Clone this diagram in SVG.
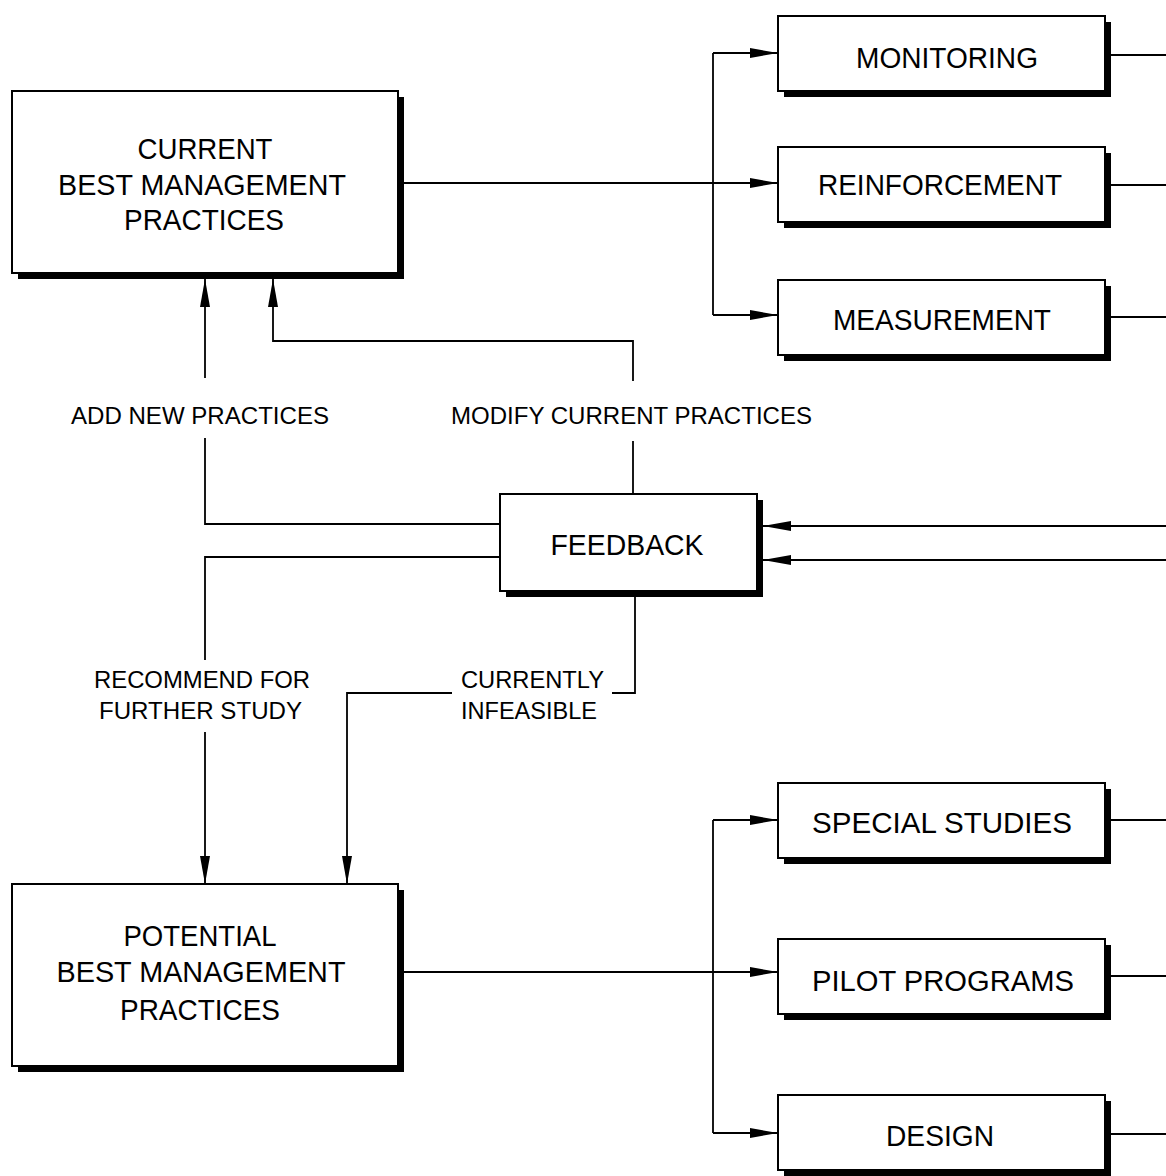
<svg xmlns="http://www.w3.org/2000/svg" width="1166" height="1176" viewBox="0 0 1166 1176">
<defs>
<style>
.shadow{fill:#000}
.box{fill:#fff;stroke:#000;stroke-width:2}
.t{font-family:"Liberation Sans",Arial,sans-serif;font-size:30px;fill:#000;text-anchor:middle}
.l{font-family:"Liberation Sans",Arial,sans-serif;font-size:24px;fill:#000}
.c{fill:none;stroke:#000;stroke-width:1.8}
</style>
<marker id="ah" markerUnits="userSpaceOnUse" markerWidth="30" markerHeight="12" refX="28" refY="5" orient="auto">
<path d="M0,0 L28,5 L0,10 Z" fill="#000"/>
</marker>
</defs>
<rect width="1166" height="1176" fill="#fff"/>

<g id="connectors">
<path class="c" d="M404,183 H778" marker-end="url(#ah)"/>
<path class="c" d="M713,53 V315"/>
<path class="c" d="M713,53 H778" marker-end="url(#ah)"/>
<path class="c" d="M713,315 H778" marker-end="url(#ah)"/>
<path class="c" d="M1110,55 H1166"/>
<path class="c" d="M1110,185 H1166"/>
<path class="c" d="M1110,317 H1166"/>
<path class="c" d="M1166,526 H763" marker-end="url(#ah)"/>
<path class="c" d="M1166,560 H763" marker-end="url(#ah)"/>
<path class="c" d="M500,524 H205 V438"/>
<path class="c" d="M205,378 V279" marker-end="url(#ah)"/>
<path class="c" d="M633,494 V441"/>
<path class="c" d="M633,381 V341 H273 V279" marker-end="url(#ah)"/>
<path class="c" d="M500,557 H205 V660"/>
<path class="c" d="M205,732 V884" marker-end="url(#ah)"/>
<path class="c" d="M635,597 V693 H612"/>
<path class="c" d="M452,693 H347 V884" marker-end="url(#ah)"/>
<path class="c" d="M404,972 H778" marker-end="url(#ah)"/>
<path class="c" d="M713,820 V1133"/>
<path class="c" d="M713,820 H778" marker-end="url(#ah)"/>
<path class="c" d="M713,1133 H778" marker-end="url(#ah)"/>
<path class="c" d="M1110,820 H1166"/>
<path class="c" d="M1110,976 H1166"/>
<path class="c" d="M1110,1134 H1166"/>
</g>

<g id="current-bmp">
<rect class="shadow" x="18" y="97" width="386" height="182"/>
<rect class="box" x="12" y="91" width="386" height="182"/>
<text class="t" x="205" y="159" textLength="135" lengthAdjust="spacingAndGlyphs">CURRENT</text>
<text class="t" x="202" y="195" textLength="288" lengthAdjust="spacingAndGlyphs">BEST MANAGEMENT</text>
<text class="t" x="204" y="230" textLength="160" lengthAdjust="spacingAndGlyphs">PRACTICES</text>
</g>

<g id="monitoring">
<rect class="shadow" x="784" y="22" width="327" height="75"/>
<rect class="box" x="778" y="16" width="327" height="75"/>
<text class="t" x="947" y="68" textLength="182" lengthAdjust="spacingAndGlyphs">MONITORING</text>
</g>

<g id="reinforcement">
<rect class="shadow" x="784" y="153" width="327" height="75"/>
<rect class="box" x="778" y="147" width="327" height="75"/>
<text class="t" x="940" y="195" textLength="244" lengthAdjust="spacingAndGlyphs">REINFORCEMENT</text>
</g>

<g id="measurement">
<rect class="shadow" x="784" y="286" width="327" height="75"/>
<rect class="box" x="778" y="280" width="327" height="75"/>
<text class="t" x="942" y="330" textLength="218" lengthAdjust="spacingAndGlyphs">MEASUREMENT</text>
</g>

<g id="feedback">
<rect class="shadow" x="506" y="500" width="257" height="97"/>
<rect class="box" x="500" y="494" width="257" height="97"/>
<text class="t" x="627" y="555" textLength="153" lengthAdjust="spacingAndGlyphs">FEEDBACK</text>
</g>

<g id="labels">
<text class="l" x="71" y="424" textLength="258" lengthAdjust="spacingAndGlyphs">ADD NEW PRACTICES</text>
<text class="l" x="451" y="424" textLength="361" lengthAdjust="spacingAndGlyphs">MODIFY CURRENT PRACTICES</text>
<text class="l" x="94" y="688" textLength="216" lengthAdjust="spacingAndGlyphs">RECOMMEND FOR</text>
<text class="l" x="99" y="719" textLength="203" lengthAdjust="spacingAndGlyphs">FURTHER STUDY</text>
<text class="l" x="461" y="688" textLength="143" lengthAdjust="spacingAndGlyphs">CURRENTLY</text>
<text class="l" x="461" y="719" textLength="136" lengthAdjust="spacingAndGlyphs">INFEASIBLE</text>
</g>

<g id="potential-bmp">
<rect class="shadow" x="18" y="890" width="386" height="182"/>
<rect class="box" x="12" y="884" width="386" height="182"/>
<text class="t" x="200" y="946" textLength="153" lengthAdjust="spacingAndGlyphs">POTENTIAL</text>
<text class="t" x="201" y="982" textLength="289" lengthAdjust="spacingAndGlyphs">BEST MANAGEMENT</text>
<text class="t" x="200" y="1020" textLength="160" lengthAdjust="spacingAndGlyphs">PRACTICES</text>
</g>

<g id="special-studies">
<rect class="shadow" x="784" y="789" width="327" height="75"/>
<rect class="box" x="778" y="783" width="327" height="75"/>
<text class="t" x="942" y="833" textLength="260" lengthAdjust="spacingAndGlyphs">SPECIAL STUDIES</text>
</g>

<g id="pilot-programs">
<rect class="shadow" x="784" y="945" width="327" height="75"/>
<rect class="box" x="778" y="939" width="327" height="75"/>
<text class="t" x="943" y="991" textLength="262" lengthAdjust="spacingAndGlyphs">PILOT PROGRAMS</text>
</g>

<g id="design">
<rect class="shadow" x="784" y="1101" width="327" height="75"/>
<rect class="box" x="778" y="1095" width="327" height="75"/>
<text class="t" x="940" y="1146" textLength="108" lengthAdjust="spacingAndGlyphs">DESIGN</text>
</g>
</svg>
